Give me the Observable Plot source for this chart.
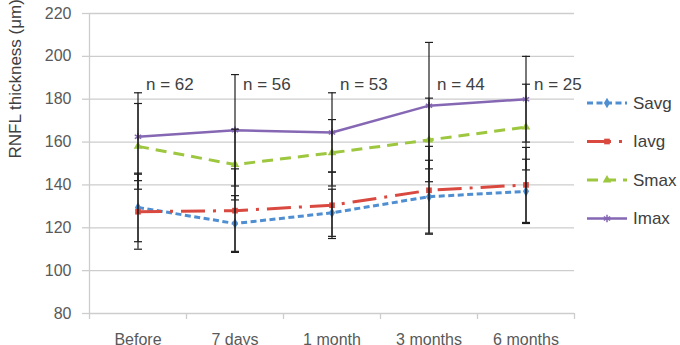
<!DOCTYPE html>
<html>
<head>
<meta charset="utf-8">
<script src="https://cdn.jsdelivr.net/npm/d3@7"></script>
<script src="https://cdn.jsdelivr.net/npm/@observablehq/plot@0.6"></script>
<style>
  body { margin: 0; background: #fff; }
  #chart { position: relative; width: 680px; height: 345px; font-family: "Liberation Sans", Arial, sans-serif; }
  #chart svg { position: absolute; left: 0; top: 0; }
</style>
</head>
<body>
<div id="chart"></div>
<script>
// Follow-up time points
const categories = ["Before", "7 days", "1 month", "3 months", "6 months"];
// Number of eyes at each time point
const nCounts = [62, 56, 53, 44, 25];

// Mean RNFL thickness (µm) per quadrant measure
const savg = [129.5, 122, 127, 134.5, 137];
const iavg = [127.5, 128, 130.5, 137.5, 140];
const smax = [158, 149.5, 155, 161, 167];
const imax = [162.5, 165.5, 164.5, 177, 180];

// Standard deviations (error bars)
const savgSd = [16, 13, 11, 17, 15];
const iavgSd = [17.5, 19.5, 15.5, 20.5, 17.5];
const smaxSd = [20, 16.5, 15.5, 19.5, 20];
const imaxSd = [20.5, 26, 18.5, 29.5, 20];

const yTitle = "RNFL thickness (\u03bcm)";

const series = [
  {name: "Savg", mean: savg, sd: savgSd, color: "#4f8fd1", dash: "6,3.5", width: 3, symbol: "diamond", r: 3.2},
  {name: "Iavg", mean: iavg, sd: iavgSd, color: "#d9493f", dash: "24,8,3,8", width: 3, symbol: "square", r: 3.2},
  {name: "Smax", mean: smax, sd: smaxSd, color: "#9dc73e", dash: "11,7", width: 3, symbol: "triangle", r: 3.2},
  {name: "Imax", mean: imax, sd: imaxSd, color: "#8567b4", dash: null, width: 2.5, symbol: "asterisk", r: 3.5}
];

const rows = series.flatMap(s => s.mean.map((v, i) => ({series: s.name, i, v, lo: v - s.sd[i], hi: v + s.sd[i]})));
const caps = rows.flatMap(d => [{i: d.i, y: d.lo}, {i: d.i, y: d.hi}]);

// Horizontal bar used as an error-bar cap
const capSymbol = {
  draw(context, size) {
    const w = Math.sqrt(size / Math.PI);
    context.moveTo(-w, 0);
    context.lineTo(w, 0);
  }
};

const idx = d3.range(categories.length);
const xDomain = [-0.5, categories.length - 0.5];
const gridColor = "#cdcdcd";
const textColor = "#595959";

const marks = [
  Plot.gridY({interval: 20, stroke: gridColor, strokeOpacity: 1, strokeWidth: 1.3}),
  Plot.axisY({interval: 20, tickSize: 7, tickPadding: 11, stroke: gridColor, strokeOpacity: 1, strokeWidth: 1.3,
              color: textColor, fontSize: 16, label: null}),
  Plot.ruleX([xDomain[0]], {stroke: gridColor, strokeWidth: 1.3}),
  Plot.axisX({ticks: d3.range(xDomain[0], xDomain[1] + 0.01, 1), tickSize: 6, tickFormat: () => "",
              stroke: gridColor, strokeOpacity: 1, strokeWidth: 1.3, label: null}),
  Plot.axisX({ticks: idx, tickSize: 0, tickPadding: 20.5, tickFormat: i => categories[i],
              color: textColor, fontSize: 16, label: null}),
  Plot.text([yTitle], {frameAnchor: "left", rotate: -90, dx: -74, dy: -5, fontSize: 17, fill: "#404040"}),
  Plot.text(idx, {x: i => i, text: i => "n = " + nCounts[i], frameAnchor: "top", dy: 64, dx: 8,
                  textAnchor: "start", fontSize: 17, fill: "#404040"})
];

for (const s of series) {
  const data = rows.filter(d => d.series === s.name);
  marks.push(Plot.line(data, {x: "i", y: "v", stroke: s.color, strokeWidth: s.width,
                              strokeDasharray: s.dash || undefined, strokeLinecap: "butt"}));
  if (s.symbol === "asterisk") {
    marks.push(Plot.dot(data, {x: "i", y: "v", symbol: s.symbol, r: s.r, stroke: s.color, strokeWidth: 1.5}));
  } else {
    marks.push(Plot.dot(data, {x: "i", y: "v", symbol: s.symbol, r: s.r, fill: s.color, stroke: "none"}));
  }
}

marks.push(
  Plot.ruleX(rows, {x: "i", y1: "lo", y2: "hi", stroke: "#1e1e1e", strokeWidth: 1.2}),
  Plot.dot(caps, {x: "i", y: "y", symbol: capSymbol, r: 4, stroke: "#1e1e1e", strokeWidth: 1.2, fill: "none"})
);

const chart = Plot.plot({
  width: 680,
  height: 345,
  marginLeft: 89,
  marginRight: 106,
  marginTop: 13,
  marginBottom: 32,
  x: {domain: xDomain},
  y: {domain: [80, 220]},
  style: {fontFamily: "\"Liberation Sans\", Arial, sans-serif", background: "#fff", overflow: "visible"},
  marks
});

const container = document.getElementById("chart");
container.appendChild(chart);

// Legend on the right, one row per series
const legend = d3.select(container).append("svg")
  .attr("width", 680).attr("height", 345)
  .style("pointer-events", "none");
const rowTop = 103, rowStep = 38.5, lx1 = 587, lx2 = 627, tx = 633;
series.forEach((s, k) => {
  const y = rowTop + k * rowStep;
  const g = legend.append("g");
  g.append("line").attr("x1", lx1).attr("x2", lx2).attr("y1", y).attr("y2", y)
    .attr("stroke", s.color).attr("stroke-width", s.width)
    .attr("stroke-dasharray", s.dash || null);
  const sym = d3.symbol().type({diamond: d3.symbolDiamond, square: d3.symbolSquare,
                                triangle: d3.symbolTriangle, asterisk: d3.symbolAsterisk}[s.symbol])
    .size(Math.PI * s.r * s.r);
  const m = g.append("path").attr("d", sym()).attr("transform", `translate(${(lx1 + lx2) / 2},${y})`);
  if (s.symbol === "asterisk") m.attr("fill", "none").attr("stroke", s.color).attr("stroke-width", 1.5);
  else m.attr("fill", s.color);
  g.append("text").attr("x", tx).attr("y", y).attr("dy", "0.35em")
    .attr("font-size", 17).attr("fill", "#404040")
    .attr("font-family", "\"Liberation Sans\", Arial, sans-serif")
    .text(s.name);
});
</script>
</body>
</html>
